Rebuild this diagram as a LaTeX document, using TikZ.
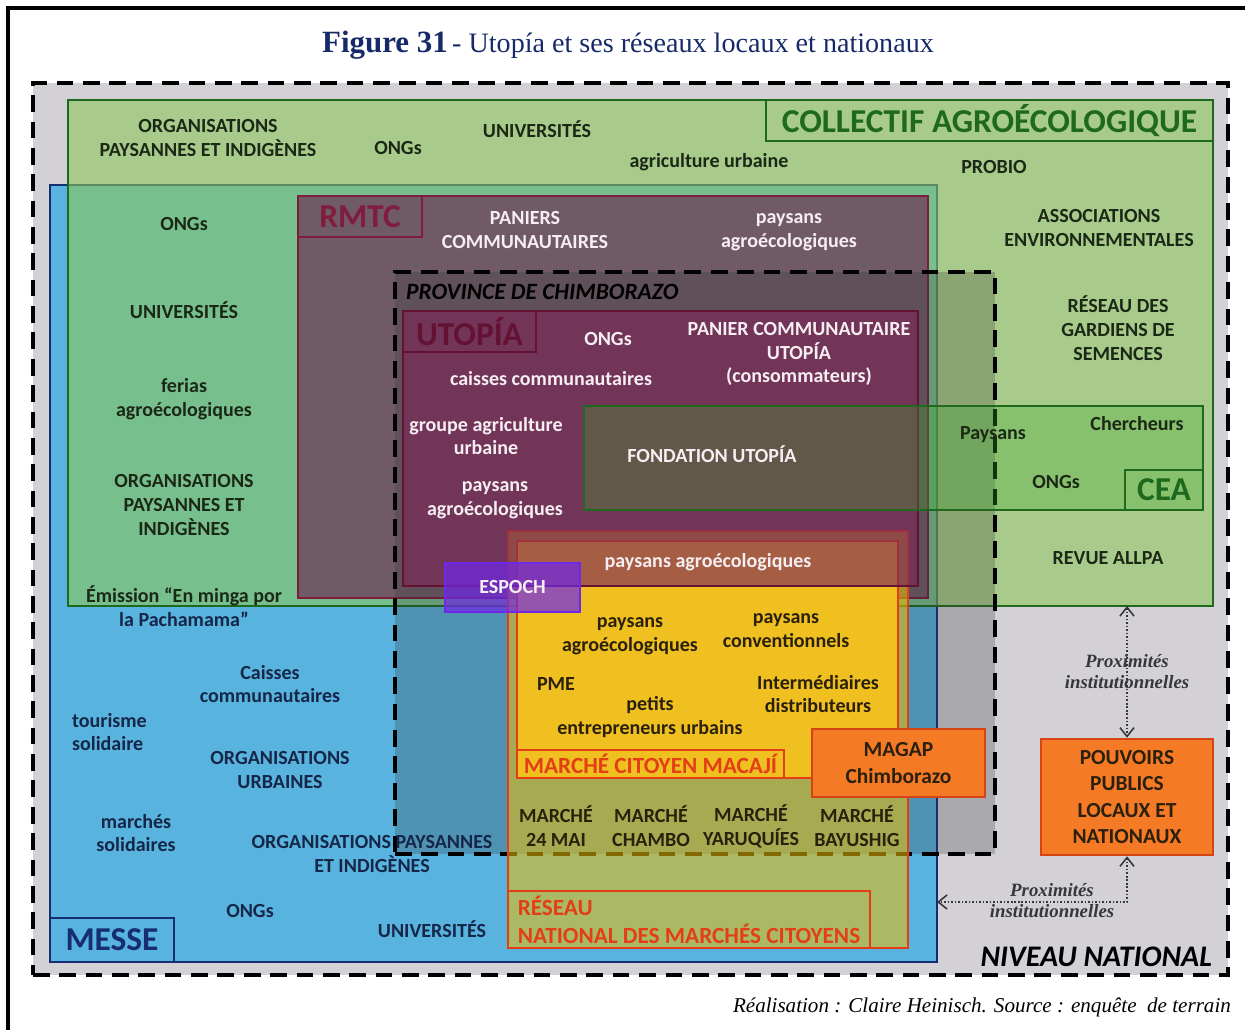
\documentclass[tikz,border=0pt]{standalone}
\usepackage{fontspec}
\setmainfont{Liberation Serif}
\setsansfont{Carlito}
\usepackage{tikz}
\usetikzlibrary{positioning, fit, arrows.meta}

\definecolor{natgrey}{RGB}{211,209,214}
\definecolor{messeblue}{RGB}{88,180,222}
\definecolor{messenavy}{RGB}{22,45,115}
\definecolor{messetext}{RGB}{22,38,72}
\definecolor{collgreen}{RGB}{140,200,90}
\definecolor{colldark}{RGB}{30,105,30}
\definecolor{colltext}{RGB}{28,40,22}
\definecolor{rmtcfill}{RGB}{112,90,102}
\definecolor{rmtcdark}{RGB}{128,28,62}
\definecolor{utopfill}{RGB}{125,40,88}
\definecolor{utopdark}{RGB}{100,18,52}
\definecolor{ceagreen}{RGB}{60,170,40}
\definecolor{reseaufill}{RGB}{240,190,0}
\definecolor{redorange}{RGB}{228,62,22}
\definecolor{macajifill}{RGB}{240,192,32}
\definecolor{espochviolet}{RGB}{112,40,232}
\definecolor{orgorange}{RGB}{245,122,38}
\definecolor{orgborder}{RGB}{212,68,20}
\definecolor{titlenavy}{RGB}{22,42,105}
\definecolor{lighttext}{RGB}{246,238,242}
\definecolor{darktext}{RGB}{42,32,12}
\definecolor{proxgrey}{RGB}{55,55,55}

\begin{document}
\begin{tikzpicture}[x=0.02cm, y=-0.02cm,
        every node/.style={font=\sffamily\bfseries\fontsize{11.4}{13.6}\selectfont, align=center, inner sep=1pt},
        zone/.style={inner sep=0pt, outer sep=0pt, line width=1.6pt, draw=#1},
        dashframe/.style={inner sep=0pt, outer sep=0pt, line width=1.8pt, draw=black, dash pattern=on 9.5pt off 5.5pt},
        zonetag/.style={inner sep=0pt, outer sep=0pt, line width=1.2pt, draw=#1, text=#1, font=\sffamily\bfseries\fontsize{19}{20}\selectfont},
        smalltag/.style={zonetag=#1, font=\sffamily\bfseries\fontsize{13.2}{16}\selectfont},
        orgbox/.style={inner sep=0pt, line width=1.5pt, draw=orgborder, fill=orgorange, text=darktext, font=\sffamily\bfseries\fontsize{12.2}{15}\selectfont},
        colltxt/.style={text=colltext},
        messetxt/.style={text=messetext},
        lighttxt/.style={text=lighttext},
        darktxt/.style={text=darktext},
        prox/.style={draw=proxgrey, line width=0.9pt, dash pattern=on 0.9pt off 1.1pt, <->, >={Straight Barb[length=5pt,width=8pt]}},
        proxlabel/.style={text=proxgrey, font=\rmfamily\bfseries\itshape\fontsize{10.7}{12}\selectfont}
    ]
%
    \useasboundingbox (0,0) rectangle (1245,1030);
    \draw[line width=1.8pt] (8,1030) |- (1245,8);
    \node[text=titlenavy, font=\rmfamily\mdseries] (titre) at (628,45) {{\bfseries\fontsize{17.6}{19}\selectfont Figure 31} {\fontsize{16}{18}\selectfont - Utopía et ses réseaux locaux et nationaux}};
%
    \node[dashframe, fit={(33,83) (1228,975)}, fill=natgrey] (national) {};
    \node[zone=messenavy, fit={(50,185) (937,962)}, fill=messeblue] (messe) {};
    \node[zone=colldark, fit={(68,100) (1213,606)}, fill=collgreen, fill opacity=0.6] (collectif) {};
    \node[zone=rmtcdark, fit={(298,196) (928,598)}, fill=rmtcfill] (rmtc) {};
    \node[dashframe, fit={(395,272) (995,854)}, fill=black!80, fill opacity=0.25] (province) {};
    \node[zone=redorange, line width=1.4pt, fit={(508,531) (908,948)}, fill=reseaufill, fill opacity=0.55] (reseau) {};
    \node[zone=redorange, line width=1.4pt, fit={(517,541) (898,778)}, fill=macajifill] (macaji) {};
    \node[zone=utopdark, fit={(403,311) (918,586)}, fill=utopfill, fill opacity=0.65] (utopia) {};
    \node[zone=colldark, fit={(584,406) (1203,510)}, fill=ceagreen, fill opacity=0.3] (cea) {};
%
    \node[zonetag=colldark, anchor=north east, minimum width=8.94cm, minimum height=0.82cm] (collectif-tag) at (collectif.north east) {COLLECTIF AGROÉCOLOGIQUE};
    \node[zonetag=messenavy, anchor=south west, minimum width=2.48cm, minimum height=0.88cm] (messe-tag) at (messe.south west) {MESSE};
    \node[zonetag=rmtcdark, anchor=north west, minimum width=2.48cm, minimum height=0.82cm] (rmtc-tag) at (rmtc.north west) {RMTC};
    \node[zonetag=utopdark, anchor=north west, minimum width=2.66cm, minimum height=0.82cm] (utopia-tag) at (utopia.north west) {UTOPÍA};
    \node[zonetag=colldark, anchor=south east, minimum width=1.56cm, minimum height=0.8cm] (cea-tag) at (cea.south east) {CEA};
    \node[smalltag=redorange, anchor=south west, minimum width=5.34cm, minimum height=0.56cm] (macaji-tag) at (macaji.south west) {MARCHÉ CITOYEN MACAJÍ};
    \node[smalltag=redorange, anchor=south west, minimum width=7.24cm, minimum height=1.14cm, align=left] (reseau-tag) at (reseau.south west) {RÉSEAU\\NATIONAL DES MARCHÉS CITOYENS};
    \node[anchor=west, text=black, font=\sffamily\bfseries\itshape\fontsize{13.3}{15}\selectfont] (province-tag) at (404,292) {PROVINCE DE CHIMBORAZO};
    \node[anchor=east, text=black, font=\sffamily\bfseries\itshape\fontsize{17}{19}\selectfont] (national-tag) at (1214,957) {NIVEAU NATIONAL};
%
    \node[zone=espochviolet, line width=1.2pt, fill=espochviolet, fill opacity=0.7, text opacity=1, text=lighttext, minimum width=2.7cm, minimum height=0.98cm] (espoch) at (512.5,587.5) {ESPOCH};
    \node[orgbox, minimum width=3.46cm, minimum height=1.36cm] (magap) at (898.5,763) {MAGAP\\Chimborazo};
    \node[orgbox, minimum width=3.44cm, minimum height=2.32cm] (pouvoirs) at (1127,797) {POUVOIRS\\PUBLICS\\LOCAUX ET\\NATIONAUX};
%
    % collectif agroecologique
    \node[colltxt] (coll-orgpi) at (208,138) {ORGANISATIONS\\PAYSANNES ET INDIGÈNES};
    \node[colltxt] (coll-ongs) at (398,148) {ONGs};
    \node[colltxt] (coll-univ) at (537,129) {UNIVERSITÉS};
    \node[colltxt] (coll-agri) at (709,162) {agriculture urbaine};
    \node[colltxt] (coll-probio) at (994,167) {PROBIO};
    \node[colltxt] (coll-assoc) at (1099,228) {ASSOCIATIONS\\ENVIRONNEMENTALES};
    \node[colltxt] (coll-gardiens) at (1118,328) {RÉSEAU DES\\GARDIENS DE\\SEMENCES};
    \node[colltxt] (coll-allpa) at (1108,558) {REVUE ALLPA};
    \node[colltxt] (both-ongs) at (184,224) {ONGs};
    \node[colltxt] (both-univ) at (184,310) {UNIVERSITÉS};
    \node[colltxt] (both-ferias) at (184,399) {ferias\\agroécologiques};
    \node[colltxt] (both-orgpi) at (184,505) {ORGANISATIONS\\PAYSANNES ET\\INDIGÈNES};
    \node[colltxt] (both-emission) at (184,606) {Émission “En minga por\\\textcolor{messetext}{la Pachamama”}};
    % messe
    \node[messetxt] (messe-caisses) at (270,684) {Caisses\\communautaires};
    \node[messetxt, anchor=west, align=left] (messe-tourisme) at (70,732) {tourisme\\solidaire};
    \node[messetxt] (messe-orgurb) at (280,770) {ORGANISATIONS\\URBAINES};
    \node[messetxt] (messe-marches) at (136,833) {marchés\\solidaires};
    \node[messetxt] (messe-orgpi) at (372,854) {ORGANISATIONS PAYSANNES\\ET INDIGÈNES};
    \node[messetxt] (messe-ongs) at (250,911) {ONGs};
    \node[messetxt] (messe-univ) at (432,929) {UNIVERSITÉS};
    % rmtc et utopia
    \node[lighttxt] (rmtc-paniers) at (525,230) {PANIERS\\COMMUNAUTAIRES};
    \node[lighttxt] (rmtc-paysans) at (789,232) {paysans\\agroécologiques};
    \node[lighttxt] (utop-ongs) at (608,339) {ONGs};
    \node[lighttxt] (utop-panier) at (799,354) {PANIER COMMUNAUTAIRE\\UTOPÍA\\(consommateurs)};
    \node[lighttxt] (utop-caisses) at (551,379) {caisses communautaires};
    \node[lighttxt] (utop-groupe) at (486,436) {groupe agriculture\\urbaine};
    \node[lighttxt] (utop-paysans) at (495,500) {paysans\\agroécologiques};
    \node[lighttxt] (utop-agro) at (708,562) {paysans agroécologiques};
    % cea
    \node[lighttxt] (cea-fondation) at (712,454) {FONDATION UTOPÍA};
    \node[colltxt] (cea-paysans) at (993,435) {Paysans};
    \node[colltxt] (cea-chercheurs) at (1137,424) {Chercheurs};
    \node[colltxt] (cea-ongs) at (1056,482) {ONGs};
    % marche citoyen
    \node[darktxt] (mac-agro) at (630,636) {paysans\\agroécologiques};
    \node[darktxt] (mac-conv) at (786,631) {paysans\\conventionnels};
    \node[darktxt] (mac-pme) at (556,684) {PME};
    \node[darktxt] (mac-inter) at (818,694) {Intermédiaires\\distributeurs};
    \node[darktxt] (mac-petits) at (650,717) {petits\\entrepreneurs urbains};
    \node[darktxt] (marche-mai) at (556,826) {MARCHÉ\\24 MAI};
    \node[darktxt] (marche-chambo) at (651,826) {MARCHÉ\\CHAMBO};
    \node[darktxt] (marche-yaru) at (751,826) {MARCHÉ\\YARUQUÍES};
    \node[darktxt] (marche-bayu) at (857,826) {MARCHÉ\\BAYUSHIG};
%
    \coordinate (coude) at (1127,902);
    \draw[prox] (collectif.south -| pouvoirs.north) -- (pouvoirs.north) node[proxlabel, midway] (prox-haut) {Proximités\\institutionnelles};
    \draw[prox] (pouvoirs.south) |- (messe.east |- coude);
    \node[proxlabel] (prox-bas1) at (1052,890) {Proximités};
    \node[proxlabel] (prox-bas2) at (1052,911) {institutionnelles};
%
    \node[anchor=east, font=\rmfamily\mdseries\itshape\fontsize{12}{14}\selectfont] (source) at (1233,1007) {Réalisation : Claire Heinisch. Source : enquête\ \ de terrain};
%
\end{tikzpicture}
\end{document}
